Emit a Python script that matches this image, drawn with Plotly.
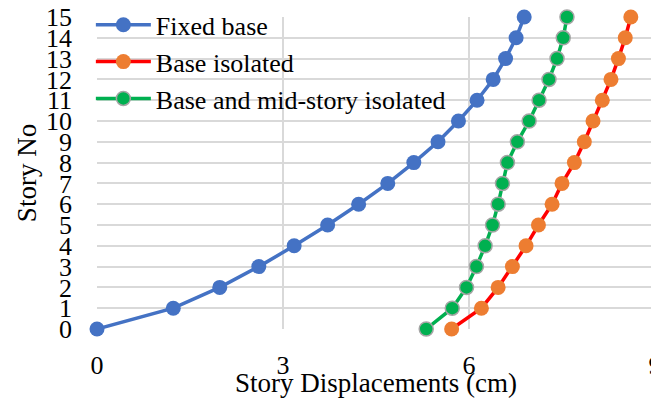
import plotly.graph_objects as go

# ── Datos ────────────────────────────────────────────────────────────────────
pisos = list(range(16))

fixed_base = [0.00, 1.23, 1.98, 2.61, 3.18, 3.72, 4.22, 4.69,
              5.11, 5.50, 5.83, 6.13, 6.39, 6.59, 6.76, 6.89]
base_isolated = [5.72, 6.20, 6.47, 6.70, 6.92, 7.12, 7.34, 7.50,
                 7.70, 7.86, 8.00, 8.15, 8.29, 8.41, 8.52, 8.61]
mid_story = [5.31, 5.73, 5.96, 6.12, 6.26, 6.38, 6.47, 6.54,
             6.62, 6.78, 6.97, 7.13, 7.29, 7.42, 7.52, 7.58]

x_ticks = [0, 3, 6, 9]

FONT = "Liberation Serif, Times New Roman, serif"

fig = go.Figure()

fig.add_trace(go.Scatter(
    x=fixed_base, y=pisos, mode="lines+markers", name="Fixed base",
    line=dict(color="#4472C4", width=3.5),
    marker=dict(size=15, color="#4472C4", line=dict(width=0)),
    cliponaxis=False,
))
fig.add_trace(go.Scatter(
    x=base_isolated, y=pisos, mode="lines+markers", name="Base isolated",
    line=dict(color="#FF0000", width=3.5),
    marker=dict(size=15, color="#ED7D31", line=dict(width=0)),
    cliponaxis=False,
))
fig.add_trace(go.Scatter(
    x=mid_story, y=pisos, mode="lines+markers",
    name="Base and mid-story isolated",
    line=dict(color="#00B050", width=3.5),
    marker=dict(size=14, color="#00B050", line=dict(color="#A5A5A5", width=1.5)),
    cliponaxis=False,
))

# la página añade 8 px de margen al cuerpo: se compensa en los márgenes
fig.update_layout(
    width=659, height=403,
    margin=dict(l=89, r=12, t=9, b=82, autoexpand=False),
    paper_bgcolor="white", plot_bgcolor="white",
    font=dict(family=FONT, color="black"),
    showlegend=True,
    legend=dict(
        x=-0.011, y=1.05, xanchor="left", yanchor="top",
        bgcolor="rgba(0,0,0,0)", font=dict(size=26, family=FONT),
        tracegroupgap=0, itemwidth=55,
    ),
    xaxis=dict(
        range=[0, 9], tickvals=x_ticks, ticktext=[str(v) for v in x_ticks],
        showgrid=True, gridcolor="#D9D9D9", gridwidth=1.5,
        zeroline=False, showline=False, automargin=False,
        ticklabeloverflow="allow",
        tickfont=dict(size=26, family=FONT), ticklabelstandoff=18,
    ),
    yaxis=dict(
        range=[0, 15], dtick=1,
        showgrid=True, gridcolor="#D9D9D9", gridwidth=1.5,
        zeroline=False, showline=False, automargin=False,
        ticklabeloverflow="allow",
        tickfont=dict(size=26, family=FONT), ticklabelstandoff=24,
        title=dict(text="Story No", font=dict(size=27, family=FONT), standoff=1),
    ),
    annotations=[dict(
        text="Story Displacements (cm)", xref="paper", yref="paper",
        x=0.5, y=-0.173, xanchor="center", yanchor="middle",
        showarrow=False, font=dict(size=27, family=FONT),
    )],
)

fig.write_html("out.html")
